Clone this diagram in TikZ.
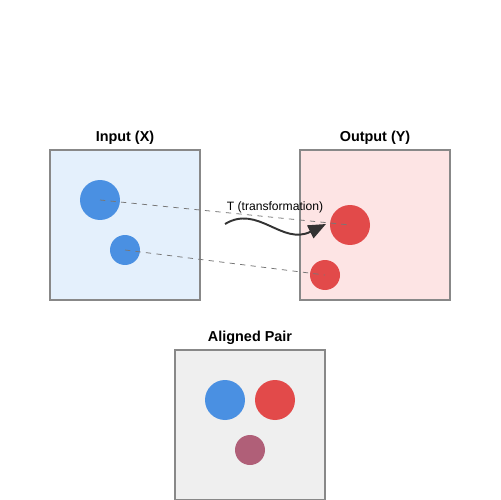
\documentclass[tikz,border=0pt]{standalone}
\usepackage{fontspec}
\setmainfont{Liberation Sans}
\usetikzlibrary{arrows.meta}
\definecolor{cblue}{HTML}{4A90E2}
\definecolor{cred}{HTML}{E24A4A}
\definecolor{cpurple}{HTML}{B05F78}
\definecolor{bblue}{HTML}{E4F0FC}
\definecolor{bred}{HTML}{FDE4E4}
\definecolor{bgray}{HTML}{EFEFEF}
\definecolor{bordc}{HTML}{888888}
\definecolor{dashc}{HTML}{777777}
\definecolor{arrc}{HTML}{333333}
\begin{document}
\begin{tikzpicture}[x=0.02cm,y=-0.02cm,
  panel/.style={draw=bordc,line width=0.65pt,minimum width=3cm,minimum height=3cm,inner sep=0pt},
  title/.style={font=\fontsize{8.2pt}{9pt}\selectfont\bfseries,text=black,inner sep=0pt},
  dot/.style={circle,inner sep=0pt,draw=none},
  big/.style={dot,minimum size=0.8cm},
  small/.style={dot,minimum size=0.6cm},
  link/.style={dashc,dashed,dash pattern=on 3pt off 3pt,line width=0.45pt},
  arr/.style={arrc,line width=1.1pt,-{Triangle[length=10pt,width=8pt]}}]
\useasboundingbox (0,0) rectangle (500,500);
\node[panel,fill=bblue] (inbox) at (125,225) {};
\node[panel,fill=bred] (outbox) at (375,225) {};
\node[panel,fill=bgray] (pairbox) at (250,425) {};
\node[title] (tin) at (125,137.5) {Input (X)};
\node[title] (tout) at (375,137.5) {Output (Y)};
\node[title] (tpair) at (250,337.5) {Aligned Pair};
\node[big,fill=cblue] (x1) at (100,200) {};
\node[small,fill=cblue] (x2) at (125,250) {};
\node[big,fill=cred] (y1) at (350,225) {};
\node[small,fill=cred] (y2) at (325,275) {};
\node[big,fill=cblue] (p1) at (225,400) {};
\node[big,fill=cred] (p2) at (275,400) {};
\node[small,fill=cpurple] (p3) at (250,450) {};
\draw[link] (x1.center) -- (y1.center);
\draw[link] (x2.center) -- (y2.center);
\coordinate (as) at (225,224);
\coordinate (ae) at (326,224);
\draw[arr] (as) .. controls (258,204) and (282,246) .. (ae);
\node[font=\fontsize{6.9pt}{8pt}\selectfont,text=black,inner sep=0pt] (tl) at (275,207) {T (transformation)};
\end{tikzpicture}
\end{document}
